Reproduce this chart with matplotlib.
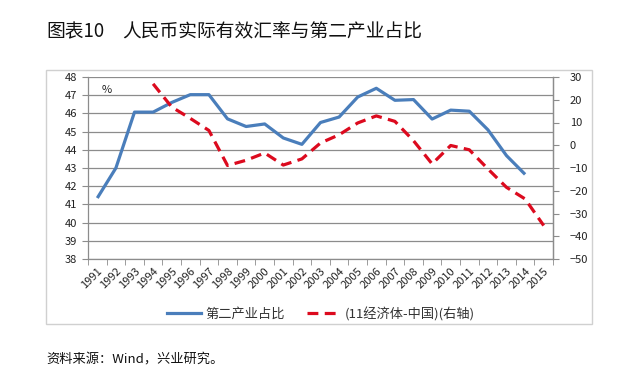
import matplotlib
matplotlib.use("Agg")
import matplotlib.pyplot as plt
from matplotlib.patches import Rectangle
from matplotlib.lines import Line2D
import numpy as np

plt.rcParams['font.family'] = ['Noto Sans CJK SC', 'DejaVu Sans']

years = [str(y) for y in range(1991, 2016)]
secondary_share = [41.35, 43.0, 46.07, 46.07, 46.6, 47.03, 47.03, 45.7, 45.28, 45.42,
                   44.65, 44.3, 45.5, 45.8, 46.9, 47.38, 46.72, 46.76, 45.69, 46.18,
                   46.12, 45.1, 43.68, 42.65, None]
reer_gap = [None, None, None, 27.0, 16.8, 11.8, 6.5, -8.9, -6.6, -3.4,
            -8.7, -6.0, 1.0, 4.6, 9.8, 12.9, 10.5, 2.0, -8.2, -0.1,
            -2.0, -10.4, -18.5, -23.6, -35.3]
left_ticks = list(range(38, 49))
right_ticks = list(range(-50, 31, 10))

title_no = "图表10"
title = "人民币实际有效汇率与第二产业占比"
legend_labels = ["第二产业占比", "(11经济体-中国)(右轴)"]
source = "资料来源：Wind，兴业研究。"

W, H = 643, 381
fig = plt.figure(figsize=(W / 100, H / 100), dpi=100)
fig.patch.set_facecolor('white')

# outer chart frame
fig.patches.append(Rectangle((46 / W, 1 - 324 / H), (592 - 46) / W, (324 - 70) / H,
                             transform=fig.transFigure, fill=False,
                             edgecolor='#d0d0d0', linewidth=1.0))

left_px, right_px, top_px, bottom_px = 88, 553, 77, 259
ax = fig.add_axes([left_px / W, 1 - bottom_px / H, (right_px - left_px) / W, (bottom_px - top_px) / H])
x = np.arange(len(years))
blue = '#4A7EBB'
red = '#DC0A1E'
grid_c = '#8c8c8c'

ys = np.array([np.nan if v is None else v for v in secondary_share], dtype=float)
ax.plot(x, ys, color=blue, linewidth=2.3, solid_capstyle='butt', zorder=3)
ax.set_xlim(-0.5, len(years) - 0.5)
ax.set_ylim(38, 48)
ax.set_yticks(left_ticks)
ax.yaxis.grid(True, color=grid_c, linewidth=0.9)
ax.set_axisbelow(True)
ax.spines['top'].set_visible(False)
for s in ['left', 'bottom', 'right']:
    ax.spines[s].set_color(grid_c)
    ax.spines[s].set_linewidth(0.9)
ax.tick_params(axis='y', length=4, color=grid_c, labelsize=8, pad=4, labelcolor='#222222')
ax.set_xticks(x)
ax.set_xticklabels(years, rotation=45, ha='right', rotation_mode='anchor', fontsize=8, color='#222222')
ax.tick_params(axis='x', which='major', length=0, pad=5)
ax.set_xticks(np.arange(-0.5, len(years), 1), minor=True)
ax.tick_params(axis='x', which='minor', length=4, color=grid_c)
ax.text(0.5, 47.3, '%', fontsize=8, ha='center', va='center', color='#222222')

ax2 = ax.twinx()
yr = np.array([np.nan if v is None else v for v in reer_gap], dtype=float)
ax2.plot(x, yr, color=red, linewidth=2.3, dashes=(3.4, 2.0), zorder=4)
ax2.set_ylim(-50, 30)
ax2.set_yticks(right_ticks)
for s in ['top', 'left', 'bottom']:
    ax2.spines[s].set_visible(False)
ax2.spines['right'].set_color(grid_c)
ax2.spines['right'].set_linewidth(0.9)
ax2.tick_params(axis='y', length=4, color=grid_c, labelsize=8, pad=8, labelcolor='#222222')

handles = [Line2D([], [], color=blue, linewidth=2.3),
           Line2D([], [], color=red, linewidth=2.3, dashes=(3.4, 2.0))]
fig.legend(handles, legend_labels, loc='center', bbox_to_anchor=(321 / W, 1 - 314 / H),
           ncol=2, frameon=False, fontsize=9.5, handlelength=2.6, columnspacing=1.7,
           handletextpad=0.3, labelcolor='#333333')

fig.text(46 / W, 1 - 31.5 / H, title_no, fontsize=13.5, ha='left', va='center', color='#111111')
fig.text(122 / W, 1 - 31.5 / H, title, fontsize=13.5, ha='left', va='center', color='#111111')
fig.text(46 / W, 1 - 360 / H, source, fontsize=9.5, ha='left', va='center', color='#111111')

fig.savefig('out.png', dpi=100, facecolor='white')
